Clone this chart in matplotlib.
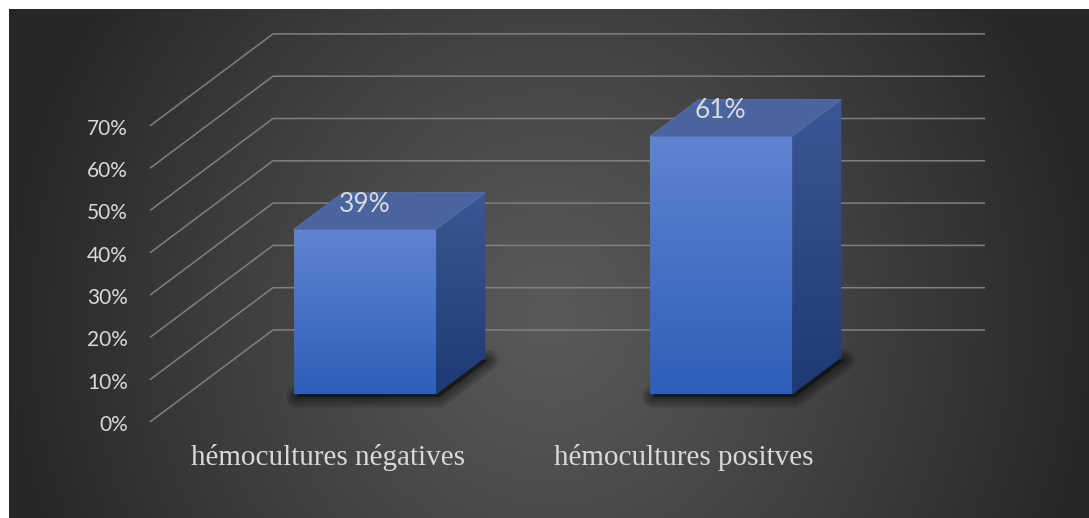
"""
3D-style column chart: share of positive vs negative blood cultures.
"""

import numpy as np
import matplotlib.pyplot as plt
from matplotlib.patches import Polygon
from matplotlib.colors import to_rgb

# ---- data -------------------------------------------------------------
categories = ["hémocultures négatives", "hémocultures positves"]
values = [0.39, 0.61]
value_labels = ["39%", "61%"]
ticks = [0.0, 0.1, 0.2, 0.3, 0.4, 0.5, 0.6, 0.7]
tick_labels = ["0%", "10%", "20%", "30%", "40%", "50%", "60%", "70%"]

# ---- oblique projection settings ---------------------------------------
DEPTH_X = 0.3455      # x shift (category units) for full depth
DEPTH_Y = 0.2175      # y shift (value units) for full depth
BAR_W = 0.4
BAR_D0, BAR_D1 = 0.3, 0.7

TEXT_COLOR = "#d9d9d9"
GRID_COLOR = "#808080"


def proj(x, y, d):
    """Project a point (category x, value y, depth d) onto the page plane."""
    return x + d * DEPTH_X, y + d * DEPTH_Y


def gradient(top, bottom, n=256):
    t = np.linspace(0, 1, n)[:, None]
    top, bottom = np.array(to_rgb(top)), np.array(to_rgb(bottom))
    return (top * (1 - t) + bottom * t)[:, None, :]


fig = plt.figure(figsize=(10.89, 5.18), dpi=100, facecolor="white")
ax = fig.add_axes([9 / 1089, 0, 1080 / 1089, 509 / 518])
xlim = (-0.896, 2.1376)
ylim = (-0.227, 0.9764)
ax.set_xlim(*xlim)
ax.set_ylim(*ylim)
ax.axis("off")

# radial background, lighter in the middle
h, w = 509, 1080
yy, xx = np.mgrid[0:h, 0:w]
r = np.hypot((xx - 541) / 550, (yy - 311) / 580)
shade = 0.35 - (0.35 - 0.15) * np.clip(r, 0, 1) ** 1.15
ax.imshow(np.dstack([shade] * 3), extent=(xlim[0], xlim[1], ylim[0], ylim[1]),
          origin="upper", aspect="auto", zorder=0)

# side wall + back wall gridlines
for v in ticks:
    p0 = proj(-0.5, v, 0)
    p1 = proj(-0.5, v, 1)
    p2 = proj(len(categories) - 0.5, v, 1)
    ax.plot([p0[0], p1[0], p2[0]], [p0[1], p1[1], p2[1]],
            color=GRID_COLOR, lw=1.1, zorder=1, solid_capstyle="butt")

# value axis labels
for v, lab in zip(ticks, tick_labels):
    ax.text(-0.5 - 0.062, v - 0.007, lab, ha="right", va="center",
            fontsize=15, family="Lato", color=TEXT_COLOR, zorder=5)

# bars
for i, (val, lab) in enumerate(zip(values, value_labels)):
    xl, xr = i - BAR_W / 2, i + BAR_W / 2

    # soft shadow around the footprint
    foot = [proj(xl, 0, BAR_D0), proj(xr, 0, BAR_D0),
            proj(xr, 0, BAR_D1), proj(xl, 0, BAR_D1)]
    foot = [(x + 0.008, y - 0.006) for x, y in foot]
    for lw in [15, 11, 7, 3]:
        ax.add_patch(Polygon(foot, closed=True, facecolor="black",
                             edgecolor="black", lw=lw, alpha=0.13,
                             joinstyle="round", zorder=2))

    # front face
    fx0, fy0 = proj(xl, 0, BAR_D0)
    fx1, fy1 = proj(xr, val, BAR_D0)
    ax.imshow(gradient("#5f84d1", "#2e5eb9"), extent=(fx0, fx1, fy0, fy1),
              origin="upper", aspect="auto", zorder=3)

    # right side face
    side = [proj(xr, 0, BAR_D0), proj(xr, 0, BAR_D1),
            proj(xr, val, BAR_D1), proj(xr, val, BAR_D0)]
    side_patch = Polygon(side, closed=True, facecolor="none",
                         edgecolor="none", zorder=3)
    ax.add_patch(side_patch)
    sx = [p[0] for p in side]
    sy = [p[1] for p in side]
    im = ax.imshow(gradient("#3b5896", "#1d3a72"),
                   extent=(min(sx), max(sx), min(sy), max(sy)),
                   origin="upper", aspect="auto", zorder=3)
    im.set_clip_path(side_patch)

    # top face
    top = [proj(xl, val, BAR_D0), proj(xr, val, BAR_D0),
           proj(xr, val, BAR_D1), proj(xl, val, BAR_D1)]
    ax.add_patch(Polygon(top, closed=True, facecolor="#4a64a0",
                         edgecolor="#5570ad", lw=0.6, zorder=3))

    # value label on top of the bar
    lx, ly = proj(i, val, BAR_D0)
    ax.text(lx, ly + 0.06, lab, ha="center", va="center",
            fontsize=19, family="Lato", color=TEXT_COLOR, zorder=6)

ax.set_xlim(*xlim)
ax.set_ylim(*ylim)

# category labels
for i, cat in enumerate(categories):
    ax.text(i, -0.083, cat, ha="center", va="center", fontsize=21,
            family="Liberation Serif", color=TEXT_COLOR, zorder=5)

fig.savefig("out.png", dpi=100, facecolor="white")
